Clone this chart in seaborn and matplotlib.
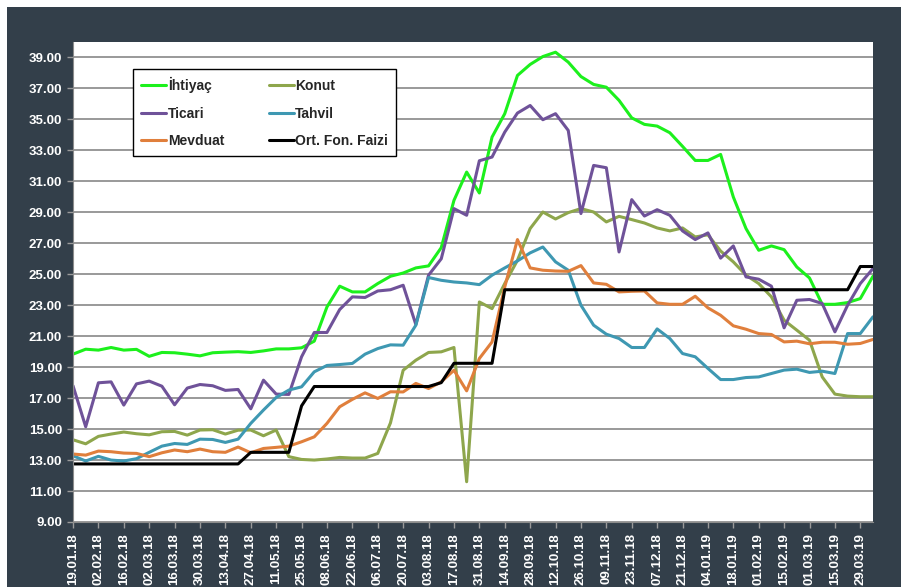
import pandas as pd
import matplotlib.pyplot as plt
import seaborn as sns
from matplotlib.patches import Rectangle

# haftalik tarihler (19.01.18 - 05.04.19)
tarihler = pd.date_range('2018-01-19', periods=64, freq='7D')

ihtiyac = [19.84, 20.16, 20.10, 20.27, 20.10, 20.15, 19.70, 19.95, 19.93, 19.84,
           19.73, 19.93, 19.97, 20.00, 19.95, 20.05, 20.18, 20.18, 20.25, 20.68,
           22.89, 24.23, 23.86, 23.86, 24.40, 24.87, 25.08, 25.41, 25.54, 26.72,
           29.77, 31.60, 30.25, 33.86, 35.37, 37.84, 38.55, 39.06, 39.34, 38.70,
           37.77, 37.26, 37.08, 36.23, 35.10, 34.68, 34.57, 34.14, 33.26, 32.35,
           32.35, 32.74, 29.99, 27.95, 26.55, 26.83, 26.59, 25.47, 24.76, 23.06,
           23.06, 23.17, 23.43, 24.87]
konut = [14.31, 14.05, 14.53, 14.68, 14.81, 14.70, 14.63, 14.83, 14.85, 14.61,
         14.94, 14.96, 14.68, 14.93, 14.94, 14.57, 14.94, 13.22, 13.04, 13.00,
         13.07, 13.17, 13.13, 13.13, 13.43, 15.40, 18.80, 19.45, 19.95, 19.99,
         20.27, 11.60, 23.21, 22.78, 24.40, 25.90, 27.95, 29.02, 28.57, 28.98,
         29.24, 29.02, 28.38, 28.74, 28.53, 28.31, 27.99, 27.80, 27.99, 27.41,
         27.55, 26.50, 25.80, 24.94, 24.40, 23.54, 22.03, 21.39, 20.74, 18.37,
         17.26, 17.13, 17.09, 17.09]
ticari = [17.80, 15.15, 17.99, 18.05, 16.55, 17.92, 18.10, 17.77, 16.57, 17.65,
          17.88, 17.80, 17.50, 17.56, 16.31, 18.16, 17.26, 17.24, 19.67, 21.24,
          21.24, 22.72, 23.54, 23.50, 23.92, 24.00, 24.29, 21.75, 24.94, 26.00,
          29.24, 28.81, 32.33, 32.57, 34.18, 35.41, 35.90, 34.98, 35.37, 34.29,
          28.92, 32.03, 31.88, 26.44, 29.82, 28.76, 29.17, 28.81, 27.80, 27.24,
          27.67, 26.04, 26.83, 24.83, 24.68, 24.23, 21.54, 23.32, 23.37, 23.11,
          21.28, 23.00, 24.40, 25.37]
tahvil = [13.28, 12.94, 13.24, 13.00, 12.94, 13.09, 13.50, 13.90, 14.07, 14.01,
          14.35, 14.33, 14.14, 14.35, 15.37, 16.23, 17.04, 17.52, 17.73, 18.70,
          19.11, 19.17, 19.24, 19.84, 20.20, 20.44, 20.42, 21.71, 24.79, 24.61,
          24.50, 24.44, 24.33, 24.94, 25.41, 25.86, 26.38, 26.76, 25.80, 25.26,
          23.00, 21.71, 21.13, 20.85, 20.27, 20.27, 21.47, 20.85, 19.88, 19.67,
          18.92, 18.20, 18.20, 18.33, 18.37, 18.59, 18.81, 18.87, 18.66, 18.74,
          18.59, 21.17, 21.17, 22.25]
mevduat = [13.39, 13.32, 13.58, 13.54, 13.45, 13.43, 13.22, 13.47, 13.65, 13.54,
           13.71, 13.54, 13.50, 13.84, 13.47, 13.75, 13.82, 13.90, 14.18, 14.50,
           15.37, 16.44, 16.92, 17.34, 16.98, 17.41, 17.40, 17.95, 17.62, 18.05,
           18.80, 17.47, 19.56, 20.63, 24.18, 27.24, 25.41, 25.26, 25.21, 25.19,
           25.56, 24.44, 24.35, 23.86, 23.90, 23.92, 23.15, 23.06, 23.06, 23.58,
           22.83, 22.35, 21.67, 21.45, 21.17, 21.11, 20.63, 20.68, 20.51, 20.61,
           20.61, 20.48, 20.53, 20.79]
fon_faizi = [12.75, 12.75, 12.75, 12.75, 12.75, 12.75, 12.75, 12.75, 12.75, 12.75,
             12.75, 12.75, 12.75, 12.75, 13.50, 13.50, 13.50, 13.50, 16.50, 17.75,
             17.75, 17.75, 17.75, 17.75, 17.75, 17.75, 17.75, 17.75, 17.75, 18.00,
             19.25, 19.25, 19.25, 19.25, 24.00, 24.00, 24.00, 24.00, 24.00, 24.00,
             24.00, 24.00, 24.00, 24.00, 24.00, 24.00, 24.00, 24.00, 24.00, 24.00,
             24.00, 24.00, 24.00, 24.00, 24.00, 24.00, 24.00, 24.00, 24.00, 24.00,
             24.00, 24.00, 25.50, 25.50]

seriler = ['İhtiyaç', 'Konut', 'Ticari', 'Tahvil', 'Mevduat', 'Ort. Fon. Faizi']
renkler = ['#1cf01c', '#8ea64c', '#6f5299', '#3e98b2', '#e07f3c', '#000000']

df = pd.DataFrame({'Tarih': tarihler, 'İhtiyaç': ihtiyac, 'Konut': konut,
                   'Ticari': ticari, 'Tahvil': tahvil, 'Mevduat': mevduat,
                   'Ort. Fon. Faizi': fon_faizi})
df = df.melt(id_vars='Tarih', var_name='Seri', value_name='Faiz')

sns.set_style('white')
plt.rcParams['font.family'] = ['Liberation Sans', 'DejaVu Sans']

fig = plt.figure(figsize=(9.1, 5.87), dpi=100, facecolor='white')
# koyu cerceve
fig.patches.append(Rectangle((7 / 910, 0), 894 / 910, 1 - 7 / 587, transform=fig.transFigure,
                             facecolor='#333f4a', edgecolor='none', zorder=-1))
ax = fig.add_axes([73 / 910, 65 / 587, 800 / 910, 480 / 587])

sns.lineplot(data=df, x='Tarih', y='Faiz', hue='Seri', hue_order=seriler,
             palette=dict(zip(seriler, renkler)), linewidth=2.2, estimator=None, ax=ax)

ax.set_xlim(tarihler[0], tarihler[-1])
ax.set_ylim(9, 40)
ax.set_yticks(range(9, 40, 2))
ax.set_yticklabels([f'{v:.2f}' for v in range(9, 40, 2)])
ax.set_xticks(tarihler[::2])
ax.set_xticklabels([d.strftime('%d.%m.%y') for d in tarihler[::2]], rotation=90)
ax.set_xlabel('')
ax.set_ylabel('')

ax.grid(axis='y', color='#878787', linewidth=1.2)
ax.grid(axis='x', visible=False)
ax.tick_params(bottom=True, left=True, colors='#9a9a9a', labelcolor='white',
               length=4, width=1, labelsize=9.5, pad=4)
for lab in ax.get_xticklabels() + ax.get_yticklabels():
    lab.set_fontweight('bold')
for s in ['top', 'right']:
    ax.spines[s].set_visible(False)
for s in ['left', 'bottom']:
    ax.spines[s].set_color('#8c8c8c')

# legend sirasi: satir satir
h, l = ax.get_legend_handles_labels()
sira = [0, 2, 4, 1, 3, 5]
ax.legend([h[i] for i in sira], [l[i] for i in sira], ncol=2, loc='upper left',
          bbox_to_anchor=(0.075, 0.944), borderaxespad=0, frameon=True, fancybox=False,
          edgecolor='black', framealpha=1, prop={'weight': 'bold', 'size': 10},
          handlelength=1.8, handletextpad=0.1, columnspacing=3.2, labelspacing=0.95,
          borderpad=0.6)
ax.get_legend().get_frame().set_linewidth(1.0)

fig.savefig('out.png', dpi=100, facecolor=fig.get_facecolor())
